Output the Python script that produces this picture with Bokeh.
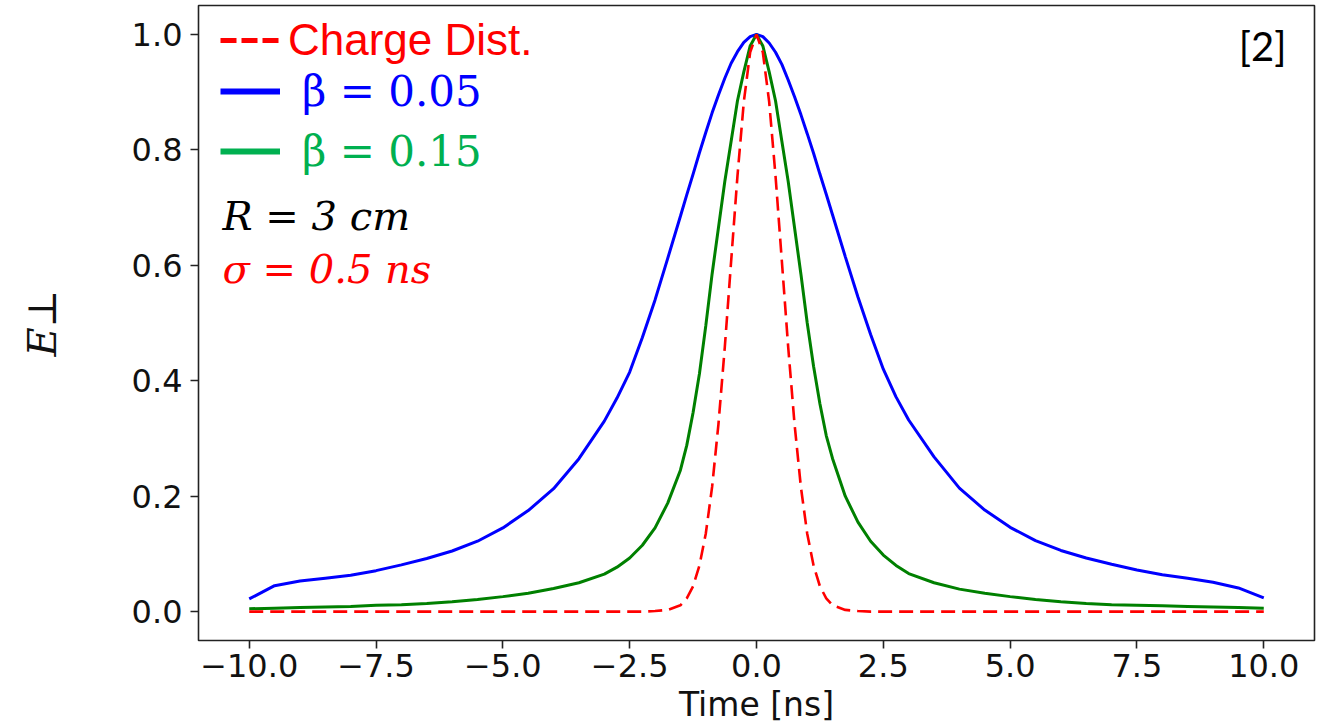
import numpy as np
from bokeh.plotting import figure
from bokeh.models import (Range1d, FixedTicker, PrintfTickFormatter, Label,
                          Legend, LegendItem, ColumnDataSource)
from bokeh.embed import file_html
from bokeh.resources import INLINE

# ---------------- data ----------------
time_ns = [-10, -9.5, -9, -8.5, -8, -7.5, -7, -6.5, -6, -5.5, -5, -4.5, -4, -3.5, -3,
           -2.75, -2.5, -2.25, -2, -1.75, -1.5, -1.375, -1.25, -1.125, -1, -0.875,
           -0.75, -0.625, -0.5, -0.375, -0.25, -0.125,
           0,
           0.125, 0.25, 0.375, 0.5, 0.625, 0.75, 0.875, 1, 1.125, 1.25, 1.375, 1.5,
           1.75, 2, 2.25, 2.5, 2.75,
           3, 3.5, 4, 4.5, 5, 5.5, 6, 6.5, 7, 7.5, 8, 8.5, 9, 9.5, 10]

charge_dist = [0, 0, 0, 0, 0, 0, 0, 0, 0, 0, 0, 0, 0, 0, 0,
               0, 0, 0, 0.001, 0.003, 0.011, 0.023, 0.044, 0.080, 0.135, 0.216,
               0.325, 0.458, 0.607, 0.755, 0.883, 0.969,
               1.0,
               0.969, 0.883, 0.755, 0.607, 0.458, 0.325, 0.216, 0.135, 0.080, 0.044, 0.023, 0.011,
               0.003, 0.001, 0, 0, 0,
               0, 0, 0, 0, 0, 0, 0, 0, 0, 0, 0, 0, 0, 0, 0]

beta_005 = [0.022, 0.045, 0.053, 0.058, 0.063, 0.071, 0.081, 0.092, 0.105, 0.122, 0.145,
            0.175, 0.213, 0.265, 0.330,
            0.370, 0.415, 0.475, 0.540, 0.612, 0.685, 0.722, 0.758, 0.795, 0.830, 0.864,
            0.895, 0.924, 0.950, 0.970, 0.986, 0.996,
            1.0,
            0.996, 0.985, 0.969, 0.948, 0.921, 0.892, 0.861, 0.828, 0.794, 0.758, 0.723, 0.687,
            0.615, 0.545, 0.480, 0.420, 0.372,
            0.332, 0.268, 0.214, 0.176, 0.146, 0.123, 0.106, 0.093, 0.082, 0.072, 0.064,
            0.058, 0.051, 0.041, 0.024]

beta_015 = [0.005, 0.006, 0.007, 0.008, 0.009, 0.011, 0.012, 0.014, 0.017, 0.021, 0.026,
            0.032, 0.040, 0.050, 0.065,
            0.077, 0.093, 0.115, 0.145, 0.188, 0.245, 0.288, 0.345, 0.412, 0.495, 0.585,
            0.665, 0.745, 0.815, 0.885, 0.935, 0.980,
            1.0,
            0.980, 0.935, 0.885, 0.815, 0.745, 0.665, 0.585, 0.500, 0.425, 0.360, 0.305, 0.265,
            0.200, 0.155, 0.122, 0.098, 0.080,
            0.066, 0.050, 0.039, 0.032, 0.026, 0.021, 0.017, 0.014, 0.012, 0.011, 0.010,
            0.009, 0.008, 0.007, 0.006]

x_ticks = [-10, -7.5, -5, -2.5, 0, 2.5, 5, 7.5, 10]
x_tick_labels = ["\u221210.0", "\u22127.5", "\u22125.0", "\u22122.5", "0.0",
                 "2.5", "5.0", "7.5", "10.0"]
y_ticks = [0, 0.2, 0.4, 0.6, 0.8, 1.0]

legend_labels = ["Charge Dist.", "\u03b2 = 0.05", "\u03b2 = 0.15"]
note_r = "R = 3 cm"
note_sigma = "\u03c3 = 0.5 ns"
ref_tag = "[2]"
x_label = "Time [ns]"
y_label = "E\u22a5"

# ---------------- figure ----------------
p = figure(width=1324, height=727,
           x_range=Range1d(-11, 11), y_range=Range1d(-0.05, 1.05),
           output_backend="svg", toolbar_location=None,
           min_border_left=198, min_border_right=10,
           min_border_top=5, min_border_bottom=87)
p.background_fill_color = "white"
p.border_fill_color = "white"
p.outline_line_color = "#222222"
p.outline_line_width = 1.6
p.xgrid.visible = False
p.ygrid.visible = False

src = ColumnDataSource(dict(t=time_ns, q=charge_dist, b1=beta_005, b2=beta_015))
p.line("t", "b1", source=src, line_color="#0000ff", line_width=3)
p.line("t", "b2", source=src, line_color="#008000", line_width=3)
p.line("t", "q", source=src, line_color="#ff0000", line_width=2.6, line_dash="14 7")

for ax in (p.xaxis[0], p.yaxis[0]):
    ax.axis_line_color = None
    ax.minor_tick_line_color = None
    ax.major_tick_in = 0
    ax.major_tick_out = 8
    ax.major_tick_line_width = 1.6
    ax.major_tick_line_color = "#222222"
    ax.major_label_text_font = "DejaVu Sans"
    ax.major_label_text_font_size = "32px"
    ax.major_label_text_color = "#111111"

p.xaxis.ticker = FixedTicker(ticks=x_ticks)
p.xaxis.major_label_overrides = dict(zip(x_ticks, x_tick_labels))
p.xaxis.major_label_standoff = 5
p.xaxis.axis_label = x_label
p.xaxis.axis_label_text_font = "DejaVu Sans"
p.xaxis.axis_label_text_font_style = "normal"
p.xaxis.axis_label_text_font_size = "33px"
p.xaxis.axis_label_text_color = "#111111"
p.xaxis.axis_label_standoff = 5

p.yaxis.ticker = FixedTicker(ticks=y_ticks)
p.yaxis.formatter = PrintfTickFormatter(format="%.1f")
p.yaxis.major_label_standoff = 8
p.yaxis.axis_label = y_label
p.yaxis.axis_label_text_font = "DejaVu Serif"
p.yaxis.axis_label_text_font_style = "italic"
p.yaxis.axis_label_text_font_size = "40px"
p.yaxis.axis_label_text_color = "#111111"
p.yaxis.axis_label_standoff = 64

# ---------------- legend (three one-item legends with own colours) ----------------
# placeholder renderers: a single NaN point draws nothing but gives a legend sample
def legend_stub(**style):
    stub = ColumnDataSource(dict(t=np.array([0.0]), v=np.array([np.nan])))
    return p.line("t", "v", source=stub, **style)

r_leg_q = legend_stub(line_color="#ff0000", line_width=5, line_dash="16 5")
r_leg_b1 = legend_stub(line_color="#0000ff", line_width=6)
r_leg_b2 = legend_stub(line_color="#00b050", line_width=6)

leg_specs = [
    (r_leg_q, legend_labels[0], "#ff0000", "Liberation Sans", "44px", 8, (22, 575)),
    (r_leg_b1, legend_labels[1], "#0000ff", "DejaVu Serif", "42px", 22, (22, 524)),
    (r_leg_b2, legend_labels[2], "#00b050", "DejaVu Serif", "42px", 22, (22, 464)),
]
for rend, lab, col, font, size, standoff, loc in leg_specs:
    lg = Legend(items=[LegendItem(label=lab, renderers=[rend])], location=loc,
                padding=0, margin=0, spacing=0, border_line_color=None,
                background_fill_alpha=0, glyph_width=60, glyph_height=50,
                label_height=50, label_standoff=standoff,
                label_text_color=col, label_text_font=font,
                label_text_font_size=size)
    p.add_layout(lg)

p.add_layout(Label(x=24, y=425, x_units="screen", y_units="screen", text=note_r,
                   text_font="DejaVu Serif", text_font_style="italic",
                   text_font_size="40px", text_color="black",
                   text_baseline="alphabetic"))
p.add_layout(Label(x=24, y=372, x_units="screen", y_units="screen", text=note_sigma,
                   text_font="DejaVu Serif", text_font_style="italic",
                   text_font_size="40px", text_color="#ff0000",
                   text_baseline="alphabetic"))
p.add_layout(Label(x=1088, y=595, x_units="screen", y_units="screen", text=ref_tag,
                   text_font="Lato", text_font_size="40px", text_color="black",
                   text_align="right", text_baseline="alphabetic"))

open("out.html", "w").write(file_html(p, INLINE))
